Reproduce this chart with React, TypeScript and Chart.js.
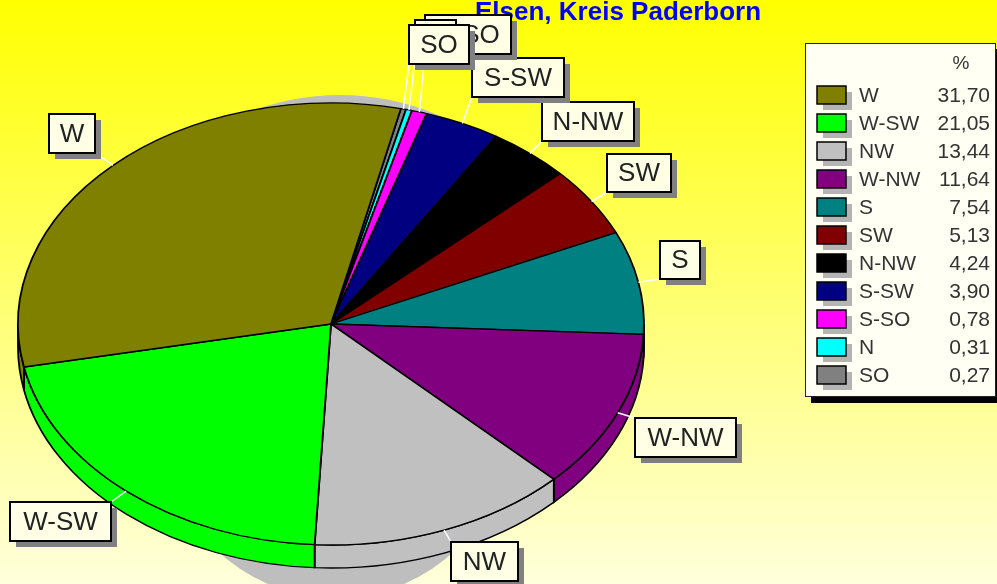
import React, { useEffect, useRef } from "react";
import { Chart, registerables } from "chart.js";

Chart.register(...registerables);

const TITLE = "Elsen, Kreis Paderborn";
const categories = ["W", "W-SW", "NW", "W-NW", "S", "SW", "N-NW", "S-SW", "S-SO", "N", "SO"];
const percentages = [31.7, 21.05, 13.44, 11.64, 7.54, 5.13, 4.24, 3.9, 0.78, 0.31, 0.27];
const percentLabels = ["31,70", "21,05", "13,44", "11,64", "7,54", "5,13", "4,24", "3,90", "0,78", "0,31", "0,27"];
const colors = ["#808000", "#00FF00", "#C0C0C0", "#800080", "#008080", "#800000", "#000000", "#000080", "#FF00FF", "#00FFFF", "#808080"];

const W = 997;
const H = 584;
const CX = 331;
const CY = 324;
const RX = 313;
const RY = 221;
const DEPTH = 23;
const FONT = "'Liberation Sans', Arial, sans-serif";

// callout boxes: [left, top, right, bottom]
const calloutBoxes: Record<string, number[]> = {
  W: [49, 114, 95, 153],
  "W-SW": [10, 502, 111, 541],
  NW: [451, 542, 518, 581],
  "W-NW": [635, 418, 736, 457],
  S: [660, 241, 700, 279],
  SW: [607, 154, 671, 192],
  "N-NW": [542, 102, 634, 141],
  "S-SW": [472, 58, 564, 97],
  "S-SO": [425, 15, 511, 54],
  N: [415, 20, 456, 59],
  SO: [409, 25, 469, 64],
};

const piePlugin = {
  id: "pie3d",
  beforeDraw(chart: any) {
    const ctx = chart.ctx;
    const g = ctx.createLinearGradient(0, 0, 0, H);
    g.addColorStop(0, "#FFFF00");
    g.addColorStop(1, "#FFFFDC");
    ctx.fillStyle = g;
    ctx.fillRect(0, 0, W, H);
    ctx.fillStyle = "#0000FF";
    ctx.font = `bold 26px ${FONT}`;
    ctx.textAlign = "left";
    ctx.textBaseline = "alphabetic";
    ctx.fillText(TITLE, 475, 20);
    ctx.fillStyle = "#BEBEBE";
    ctx.beginPath();
    ctx.arc(336, 425, 173, 0, Math.PI * 2);
    ctx.fill();
    ctx.beginPath();
    ctx.arc(340, 345, 250, Math.PI, Math.PI * 2);
    ctx.fill();
  },
  beforeDatasetsDraw(chart: any) {
    const ctx = chart.ctx;
    const arcs = chart.getDatasetMeta(0).data;
    const r = arcs[0].outerRadius;
    const cx = arcs[0].x;
    const cy = arcs[0].y;
    ctx.save();
    ctx.translate(cx, cy);
    ctx.scale(RX / r, RY / r);
    ctx.translate(-cx, -cy);
    const dy = (DEPTH * r) / RY;
    arcs.forEach((arc: any, i: number) => {
      for (const k of [0, 1]) {
        const lo = k * Math.PI * 2;
        const a0 = Math.max(arc.startAngle, lo);
        const a1 = Math.min(arc.endAngle, lo + Math.PI);
        if (a1 <= a0) continue;
        ctx.beginPath();
        ctx.arc(cx, cy, r, a0, a1);
        ctx.arc(cx, cy + dy, r, a1, a0, true);
        ctx.closePath();
        ctx.fillStyle = chart.data.datasets[0].backgroundColor[i];
        ctx.fill();
        ctx.lineWidth = 1.5;
        ctx.strokeStyle = "#000";
        ctx.stroke();
      }
    });
    // the face drawn by the library is squeezed the same way
  },
  afterDatasetsDraw(chart: any) {
    const ctx = chart.ctx;
    ctx.restore();
    const arcs = chart.getDatasetMeta(0).data;

    // callouts, first category first so later ones lie on top
    categories.forEach((name, idx) => {
      const arc = arcs[categories.length - 1 - idx];
      const mid = (arc.startAngle + arc.endAngle) / 2;
      const px = CX + Math.cos(mid) * RX;
      const py = CY + Math.sin(mid) * RY;
      const [l, t, rr, b] = calloutBoxes[name];
      const ex = Math.min(rr, Math.max(l, px));
      const ey = Math.min(b, Math.max(t, py));
      ctx.strokeStyle = "#FFFFFF";
      ctx.lineWidth = 1.5;
      ctx.beginPath();
      ctx.moveTo(px, py);
      ctx.lineTo(ex, ey);
      ctx.stroke();
      ctx.fillStyle = "#808080";
      ctx.fillRect(l + 6, t + 6, rr - l, b - t);
      ctx.fillStyle = "#FFFFE6";
      ctx.fillRect(l, t, rr - l, b - t);
      ctx.strokeStyle = "#000";
      ctx.lineWidth = 2;
      ctx.strokeRect(l, t, rr - l, b - t);
      ctx.fillStyle = "#222";
      ctx.font = `26px ${FONT}`;
      ctx.textAlign = "center";
      ctx.textBaseline = "middle";
      ctx.fillText(name, (l + rr) / 2, (t + b) / 2 + 1);
    });

    // legend panel
    ctx.fillStyle = "#000";
    ctx.fillRect(811, 49, 186, 354);
    ctx.fillStyle = "#FFFFF4";
    ctx.fillRect(805, 43, 191, 354);
    ctx.strokeStyle = "#222";
    ctx.lineWidth = 1;
    ctx.strokeRect(805.5, 43.5, 190, 353);
    ctx.textBaseline = "middle";
    ctx.fillStyle = "#333";
    ctx.textAlign = "center";
    ctx.font = `19px ${FONT}`;
    ctx.fillText("%", 961, 64);
    ctx.font = `21px ${FONT}`;
    categories.forEach((name, i) => {
      const y = 86 + i * 28;
      ctx.fillStyle = "#B4B4B4";
      ctx.fillRect(823, y + 6, 29, 18);
      ctx.fillStyle = colors[i];
      ctx.fillRect(817, y, 29, 18);
      ctx.strokeStyle = "#000";
      ctx.lineWidth = 1.5;
      ctx.strokeRect(817, y, 29, 18);
      ctx.fillStyle = "#333";
      ctx.textAlign = "left";
      ctx.fillText(name, 859, y + 10);
      ctx.textAlign = "right";
      ctx.fillText(percentLabels[i], 990, y + 10);
    });
  },
};

export default function App() {
  const ref = useRef<HTMLCanvasElement>(null);
  useEffect(() => {
    document.body.style.margin = "0";
    const chart = new Chart(ref.current!, {
      type: "pie",
      data: {
        labels: [...categories].reverse(),
        datasets: [
          {
            data: [...percentages].reverse(),
            backgroundColor: [...colors].reverse(),
            borderColor: "#000000",
            borderWidth: 1.5,
            borderAlign: "center",
          },
        ],
      },
      options: {
        responsive: false,
        animation: false,
        rotation: 12.9,
        layout: { padding: { left: 0, top: 64, right: 335, bottom: 0 } },
        plugins: { legend: { display: false }, tooltip: { enabled: false }, title: { display: false } },
      },
      plugins: [piePlugin],
    } as any);
    return () => chart.destroy();
  }, []);
  return <canvas ref={ref} width={W} height={H} style={{ display: "block" }} />;
}
